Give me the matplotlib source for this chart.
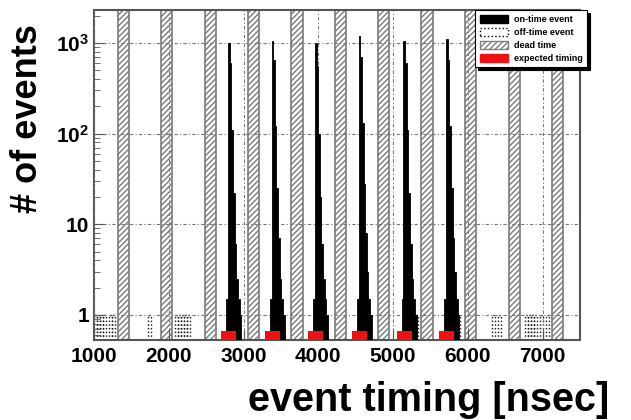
import matplotlib
matplotlib.use("Agg")
import matplotlib.pyplot as plt
from matplotlib.patches import Patch

plt.rcParams['font.family'] = ['Liberation Sans', 'DejaVu Sans']
plt.rcParams['font.weight'] = 'bold'
plt.rcParams['mathtext.fontset'] = 'custom'
plt.rcParams['mathtext.rm'] = 'Liberation Sans:bold'
plt.rcParams['mathtext.bf'] = 'Liberation Sans:bold'
plt.rcParams['mathtext.default'] = 'bf'
plt.rcParams['hatch.linewidth'] = 1.0

# bunch (on-time) centres [nsec] and expected timing markers
bunch_t = [2805, 3385, 3965, 4550, 5150, 5720]
bin_w = 22
# counts per bin, starting one bin before the peak
bunch_counts = [
    [1.5, 1000, 600, 110, 22, 6, 2.5, 1.5, 1],
    [1.5, 1050, 650, 120, 25, 7, 2.5, 1.5, 1],
    [1.5, 1000, 550, 100, 20, 6, 2.5, 1.5, 1],
    [1.5, 1200, 700, 130, 28, 8, 3, 1.5, 1],
    [1.5, 1050, 600, 110, 22, 6, 2.5, 1.5, 1],
    [1.5, 1100, 650, 120, 25, 7, 3, 1.5, 1],
]
expected_top = 0.66
expected_w = 200

# off-time events (bin start, count)
off_t = [1000, 1040, 1080, 1120, 1200, 1240, 1720, 2080, 2120, 2160, 2200,
         2240, 5290, 5850, 6320, 6400, 6760, 6800, 6840, 6880, 6960, 7040]
off_n = [1] * len(off_t)
off_w = 40

# dead time windows (centres)
dead_t = [1390, 1970, 2555, 3135, 3715, 4295, 4875, 5455, 6040, 6620, 7200]
dead_w = 150

xticks = [1000, 2000, 3000, 4000, 5000, 6000, 7000]
yticks = [1, 10, 100, 1000]
ylabels = ['1', '10', '$10^{2}$', '$10^{3}$']

fig = plt.figure(figsize=(6.31, 4.20), dpi=100)
ax = fig.add_axes([94 / 631, 80 / 420, 486 / 631, 330 / 420])
ax.set_yscale('log')
ax.set_xlim(1000, 7500)
ax.set_ylim(0.53, 2300)

for t in dead_t:
    ax.axvspan(t - dead_w / 2, t + dead_w / 2, facecolor='white',
               edgecolor='#7a7a7a', hatch='//////', lw=1.2, zorder=1)

for t, counts in zip(bunch_t, bunch_counts):
    starts = [t - 1.5 * bin_w + i * bin_w for i in range(len(counts))]
    ax.bar(starts, counts, width=bin_w, align='edge', color='black',
           edgecolor='black', linewidth=0.6, zorder=3)

ax.bar(off_t, off_n, width=off_w, align='edge', fill=False,
       edgecolor='#111111', linestyle=':', linewidth=1.0, zorder=2)

ax.bar(bunch_t, [expected_top] * len(bunch_t), width=expected_w,
       color='#ee1111', linewidth=0, zorder=4)

ax.grid(True, which='major', color='#777777', linestyle=(0, (3, 2, 1, 2)),
        linewidth=0.8)
ax.set_axisbelow(False)
for s in ax.spines.values():
    s.set_color('#555555')
    s.set_linewidth(1.5)

ax.set_xticks(xticks)
ax.set_xticklabels([str(v) for v in xticks])
ax.set_yticks(yticks, ylabels)
ax.tick_params(axis='both', which='major', direction='in', labelsize=15,
               length=7, color='#555555')
ax.tick_params(axis='y', which='minor', direction='in', length=4,
               color='#555555')
ax.tick_params(axis='x', which='major', pad=5)
for lab in ax.get_xticklabels() + ax.get_yticklabels():
    lab.set_fontweight('bold')

ax.set_ylabel('# of events', fontsize=26, fontweight='bold')
ax.yaxis.set_label_coords(-0.10, 0.67)
ax.set_xlabel('event timing [nsec]', fontsize=28.5, fontweight='bold',
              ha='right')
ax.xaxis.set_label_coords(1.06, -0.125)

handles = [
    Patch(facecolor='black', edgecolor='black'),
    Patch(facecolor='white', edgecolor='black', linestyle=':'),
    Patch(facecolor='white', edgecolor='#808080', hatch='//////'),
    Patch(facecolor='#ee1111', edgecolor='#ee1111'),
]
labels = ['on-time event', 'off-time event', 'dead time', 'expected timing']
leg = ax.legend(handles, labels, loc='upper left', borderaxespad=0,
                bbox_to_anchor=(0.784, 1.0), fontsize=6.5, frameon=True,
                fancybox=False, edgecolor='black', framealpha=1,
                borderpad=0.5, labelspacing=0.4, handlelength=3.2,
                handleheight=1.1, handletextpad=0.6,
                shadow={'color': 'black', 'alpha': 1})
leg.get_frame().set_linewidth(0.8)
leg.set_zorder(10)
for txt in leg.get_texts():
    txt.set_fontweight('bold')

fig.savefig('out.png', dpi=100)
